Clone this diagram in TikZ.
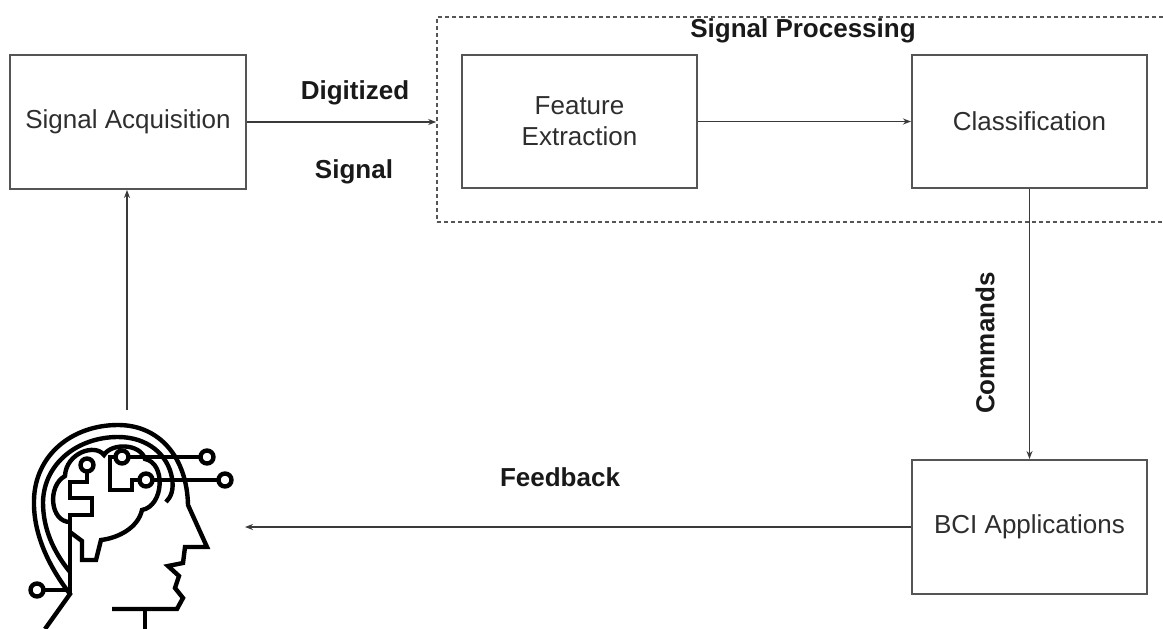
\documentclass[tikz,border=0pt]{standalone}
\usepackage{fontspec}
\setmainfont{Liberation Sans}
\usetikzlibrary{arrows.meta}

\definecolor{boxline}{HTML}{555555}
\definecolor{arrowline}{HTML}{3A3A3A}
\definecolor{boxtext}{HTML}{2E2E2E}

\tikzset{
  blockbox/.style={draw=boxline, line width=2pt, minimum width=236pt,
    minimum height=134pt, align=center, inner sep=0pt, text=boxtext,
    font=\fontsize{26}{31}\selectfont},
  groupbox/.style={draw=boxline, line width=1.6pt, dash pattern=on 4pt off 3pt,
    minimum width=740pt, minimum height=205pt, inner sep=0pt},
  flow/.style={draw=arrowline, line width=1.5pt, -{Stealth[length=8pt,width=6pt]}},
  lbl/.style={font=\fontsize{26}{30}\selectfont\bfseries, text=black!90, inner sep=0pt},
  icon/.style={line width=4.4pt, black, line join=miter},
}

\begin{document}
\begin{tikzpicture}[x=1pt,y=-1pt]
  \fill[white] (0,0) rectangle (1163,629);
  \useasboundingbox (0,0) rectangle (1163,629);

  % processing group
  \node[groupbox] (sp) at (807,119.5) {};
  \node[lbl] (sptitle) at (803,31) {Signal Processing};

  % blocks
  \node[blockbox] (acq) at (128,122) {Signal Acquisition};
  \node[blockbox, minimum width=235pt, minimum height=133pt] (fe) at (579.5,121.5) {Feature\\Extraction};
  \node[blockbox, minimum width=235pt, minimum height=133pt] (cls) at (1029.5,121.5) {Classification};
  \node[blockbox, minimum width=235pt] (bci) at (1029.5,527) {BCI Applications};

  % connector labels
  \node[lbl] (dig) at (355,93) {Digitized};
  \node[lbl] (sig) at (354,172) {Signal};
  \node[lbl, rotate=90] (cmd) at (985,343) {Commands};
  \node[lbl] (fb) at (560,477) {Feedback};

  % connector ends at the head
  \coordinate (headT) at (127,410);
  \coordinate (headR) at (245,527);

  % connectors
  \draw[flow] (acq.east) -- (acq.east -| sp.west);
  \draw[flow] (fe.east) -- (cls.west);
  \draw[flow] (cls.south) -- (bci.north);
  \draw[flow] (bci.west) -- (headR);
  \draw[flow] (headT) -- (headT |- acq.south);

  % head with circuit brain
  \draw[icon] (45,629) -- (70,594) .. controls (50,568) and (33,535) .. (34,500)
    .. controls (35,455) and (72,425) .. (118,425)
    .. controls (160,425) and (187,458) .. (188,505)
    -- (207,547) -- (185,547) -- (183,563) -- (168,566) -- (179,576)
    -- (175,588) -- (183,598) -- (177,609) -- (112,609);
  \draw[icon] (145,609) -- (145,629);
  \draw[icon] (70,572) .. controls (52,550) and (43,527) .. (43,502)
    .. controls (44,463) and (78,437) .. (118,437)
    .. controls (148,437) and (168,455) .. (172,478)
    .. controls (174,490) and (171,497) .. (166,502);
  % brain outline
  \draw[icon] (70,522) .. controls (50,522) and (47,486) .. (65,476)
    .. controls (66,453) and (95,443) .. (104,455)
    .. controls (111,443) and (140,443) .. (145,459)
    .. controls (166,463) and (164,506) .. (142,510)
    .. controls (138,528) and (118,538) .. (101,540)
    -- (96,560) -- (82,560) -- (82,541) -- (70,532);
  % circuit traces
  \draw[icon] (87,471.5) -- (87,482) -- (70,482) -- (70,498) -- (92,498)
    -- (92,515) -- (70,515) -- (70,594);
  \draw[icon] (115.5,457) -- (110,457) -- (110,490) -- (132,490) -- (132,480) -- (139.5,480);
  \draw[icon] (128.5,457) -- (200.5,457);
  \draw[icon] (152.5,480) -- (218.5,480);
  \draw[icon] (43.5,590) -- (70,590);
  \foreach \cx/\cy in {87/465, 122/457, 146/480, 207/457, 225/480, 37/590}
    \draw[icon] (\cx,\cy) circle (6.5pt);
\end{tikzpicture}
\end{document}
